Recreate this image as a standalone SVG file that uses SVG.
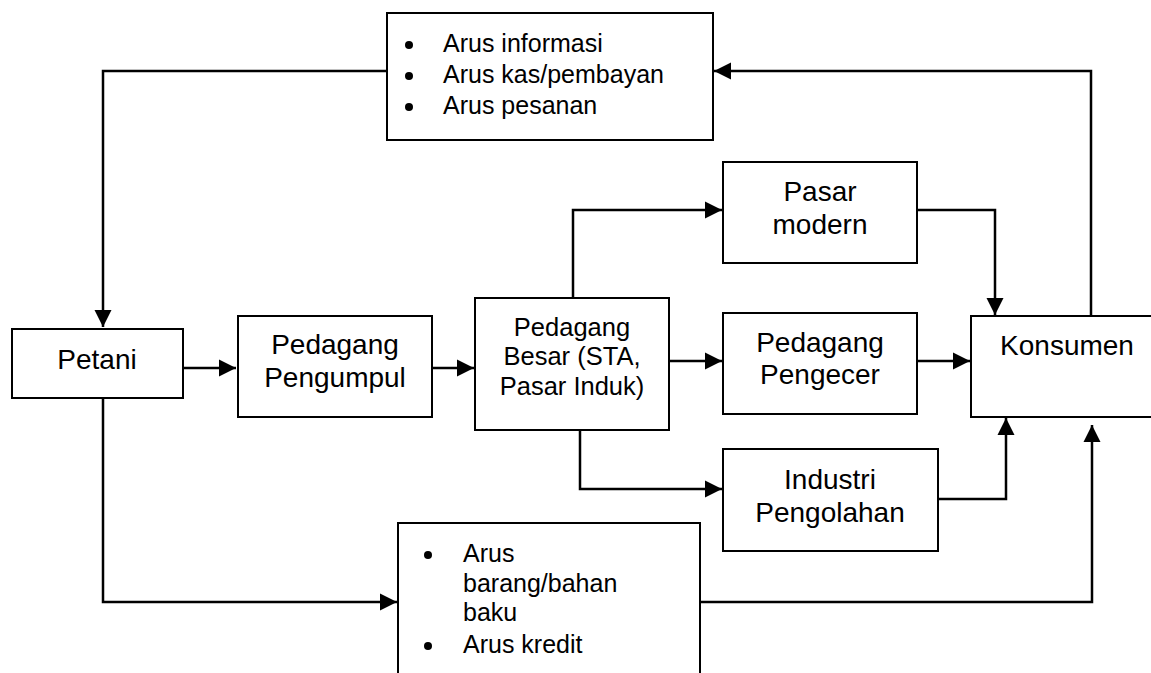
<svg xmlns="http://www.w3.org/2000/svg" width="1151" height="673" viewBox="0 0 1151 673">
<style>
rect.box{fill:#fff;stroke:#000;stroke-width:2}
text{font-family:"Liberation Sans",Arial,sans-serif;fill:#000}
.n{font-size:28px;text-anchor:middle}
.s{font-size:25.5px;text-anchor:middle}
.l{font-size:25px}
.c{fill:none;stroke:#000;stroke-width:2.5}
</style>
<defs>
<marker id="a" markerUnits="userSpaceOnUse" markerWidth="18" markerHeight="18" refX="17" refY="9" orient="auto">
<path d="M0,0.5 L17,9 L0,17.5 Z" fill="#000"/>
</marker>
</defs>
<g id="connectors">
<path class="c" d="M387,71 H103 V327" marker-end="url(#a)"/>
<path class="c" d="M103,398 V602 H397" marker-end="url(#a)"/>
<path class="c" d="M183,368 H236" marker-end="url(#a)"/>
<path class="c" d="M432,368 H474" marker-end="url(#a)"/>
<path class="c" d="M573,298 V210 H722" marker-end="url(#a)"/>
<path class="c" d="M669,361 H722" marker-end="url(#a)"/>
<path class="c" d="M580,430 V489 H722" marker-end="url(#a)"/>
<path class="c" d="M917,210 H995 V315" marker-end="url(#a)"/>
<path class="c" d="M917,361 H970" marker-end="url(#a)"/>
<path class="c" d="M938,499 H1006 V418" marker-end="url(#a)"/>
<path class="c" d="M700,602 H1092 V425" marker-end="url(#a)"/>
<path class="c" d="M1091,316 V71 H714" marker-end="url(#a)"/>
</g>
<g id="info">
<rect class="box" x="387" y="13" width="326" height="127"/>
<circle cx="409" cy="45" r="4"/>
<circle cx="409" cy="76" r="4"/>
<circle cx="409" cy="107" r="4"/>
<text class="l" x="443" y="52">Arus informasi</text>
<text class="l" x="443" y="83">Arus kas/pembayan</text>
<text class="l" x="443" y="114">Arus pesanan</text>
</g>
<g id="petani">
<rect class="box" x="12" y="329" width="171" height="69"/>
<text class="n" x="97" y="369">Petani</text>
</g>
<g id="pengumpul">
<rect class="box" x="238" y="316" width="194" height="101"/>
<text class="n" x="335" y="354">Pedagang</text>
<text class="n" x="335" y="387">Pengumpul</text>
</g>
<g id="besar">
<rect class="box" x="475" y="298" width="194" height="132"/>
<text class="s" x="572" y="336">Pedagang</text>
<text class="s" x="572" y="365">Besar (STA,</text>
<text class="s" x="572" y="395">Pasar Induk)</text>
</g>
<g id="pasar-modern">
<rect class="box" x="723" y="162" width="194" height="101"/>
<text class="n" x="820" y="201">Pasar</text>
<text class="n" x="820" y="234">modern</text>
</g>
<g id="pengecer">
<rect class="box" x="723" y="313" width="194" height="101"/>
<text class="n" x="820" y="352">Pedagang</text>
<text class="n" x="820" y="384">Pengecer</text>
</g>
<g id="industri">
<rect class="box" x="723" y="449" width="215" height="102"/>
<text class="n" x="830" y="489">Industri</text>
<text class="n" x="830" y="522">Pengolahan</text>
</g>
<g id="konsumen">
<rect class="box" x="971" y="316" width="200" height="101"/>
<text class="n" x="1067" y="355">Konsumen</text>
</g>
<g id="barang">
<rect class="box" x="398" y="523" width="302" height="170"/>
<circle cx="428" cy="555" r="4"/>
<circle cx="428" cy="646" r="4"/>
<text class="l" x="463" y="562">Arus</text>
<text class="l" x="463" y="592">barang/bahan</text>
<text class="l" x="463" y="621">baku</text>
<text class="l" x="463" y="653">Arus kredit</text>
</g>
</svg>
